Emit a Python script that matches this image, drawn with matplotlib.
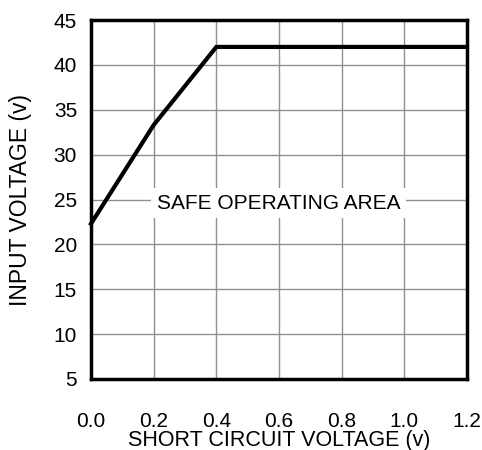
import matplotlib
matplotlib.use("Agg")
import matplotlib.pyplot as plt

x_vals = [0.0, 0.2, 0.4, 1.2]
y_vals = [22.3, 33.3, 42.0, 42.0]
x_ticks = [0.0, 0.2, 0.4, 0.6, 0.8, 1.0, 1.2]
x_tick_labels = ["0.0", "0.2", "0.4", "0.6", "0.8", "1.0", "1.2"]
y_ticks = [5, 10, 15, 20, 25, 30, 35, 40, 45]
y_tick_labels = ["5", "10", "15", "20", "25", "30", "35", "40", "45"]

plt.rcParams['font.family'] = ['Liberation Sans', 'DejaVu Sans']

fig = plt.figure(figsize=(4.82, 4.5), dpi=100)
ax = fig.add_axes([91/482, 1-379/450, (467-91)/482, (379-20)/450])
ax.set_xlim(0, 1.2)
ax.set_ylim(5, 45)
ax.set_xticks(x_ticks)
ax.set_xticklabels(x_tick_labels)
ax.set_yticks(y_ticks)
ax.set_yticklabels(y_tick_labels)
ax.grid(True, color='#8f8f8f', linewidth=1.0)
ax.set_axisbelow(True)
for s in ax.spines.values():
    s.set_linewidth(2.5)
    s.set_color('black')
ax.tick_params(axis='both', length=0, labelsize=15)
ax.tick_params(axis='x', pad=24)
ax.tick_params(axis='y', pad=10)
ax.plot(x_vals, y_vals, color='black', linewidth=3, solid_joinstyle='miter', clip_on=False, zorder=3)
ax.text(0.21, 24.6, "SAFE OPERATING AREA", fontsize=15, ha='left', va='center',
        bbox=dict(facecolor='white', edgecolor='none', pad=4), zorder=4)
ax.set_xlabel("SHORT CIRCUIT VOLTAGE (v)", fontsize=15.5, labelpad=-1)
ax.set_ylabel("INPUT VOLTAGE (v)", fontsize=16.5, labelpad=16)
fig.savefig("out.png", dpi=100)
